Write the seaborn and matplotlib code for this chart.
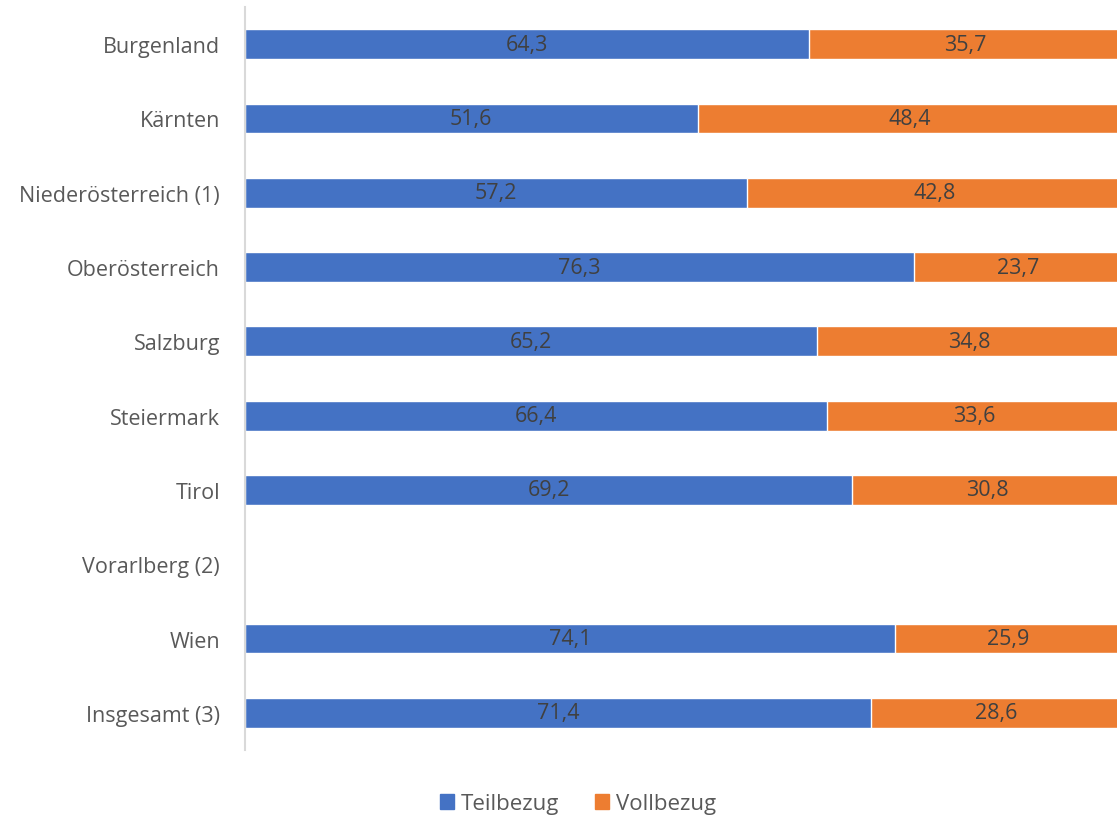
import matplotlib
matplotlib.use("Agg")
import matplotlib.pyplot as plt
import numpy as np
import pandas as pd
import seaborn as sns
from matplotlib.patches import Patch

# data
regions = ["Burgenland", "Kärnten", "Niederösterreich (1)", "Oberösterreich", "Salzburg",
           "Steiermark", "Tirol", "Vorarlberg (2)", "Wien", "Insgesamt (3)"]
teilbezug = [64.3, 51.6, 57.2, 76.3, 65.2, 66.4, 69.2, np.nan, 74.1, 71.4]
vollbezug = [35.7, 48.4, 42.8, 23.7, 34.8, 33.6, 30.8, np.nan, 25.9, 28.6]

blue = "#4472C4"
orange = "#ED7D31"
text_grey = "#595959"
label_grey = "#404040"

df = pd.DataFrame({"region": regions, "teil": teilbezug, "voll": vollbezug})
df["total"] = df["teil"] + df["voll"]

sns.set_style("white")
plt.rcParams["font.family"] = ["Open Sans", "DejaVu Sans"]

fig = plt.figure(figsize=(11.17, 8.20), dpi=100)
ax = fig.add_axes([245 / 1117, 69 / 820, 877 / 1117, 743 / 820])

# stacked: total in orange, teil in blue on top
sns.barplot(data=df, x="total", y="region", order=regions, color=orange,
            width=0.4, orient="h", ax=ax, saturation=1)
sns.barplot(data=df, x="teil", y="region", order=regions, color=blue,
            width=0.4, orient="h", ax=ax, saturation=1)

# value labels
for i, (t, v) in enumerate(zip(teilbezug, vollbezug)):
    if np.isnan(t):
        continue
    ax.text(t / 2, i, f"{t:.1f}".replace(".", ","), ha="center", va="center",
            fontsize=15.5, color=label_grey)
    ax.text(t + v / 2, i, f"{v:.1f}".replace(".", ","), ha="center", va="center",
            fontsize=15.5, color=label_grey)

ax.set_xlim(0, 100)
ax.set_ylim(9.5, -0.5)
ax.set_xlabel("")
ax.set_ylabel("")
ax.set_xticks([])
ax.tick_params(axis="y", length=0, pad=18, labelsize=15.5, labelcolor=text_grey)
for side in ["top", "right", "bottom"]:
    ax.spines[side].set_visible(False)
ax.spines["left"].set_color("#D9D9D9")
ax.spines["left"].set_linewidth(1.5)

handles = [Patch(color=blue, label="Teilbezug"), Patch(color=orange, label="Vollbezug")]
leg = fig.legend(handles=handles, loc="center", bbox_to_anchor=(578 / 1117, 1 - 805 / 820),
                 ncol=2, frameon=False, fontsize=16, handlelength=0.65, handleheight=0.65,
                 handletextpad=0.3, columnspacing=1.6)
for txt in leg.get_texts():
    txt.set_color(text_grey)

fig.savefig("out.png", dpi=100)
